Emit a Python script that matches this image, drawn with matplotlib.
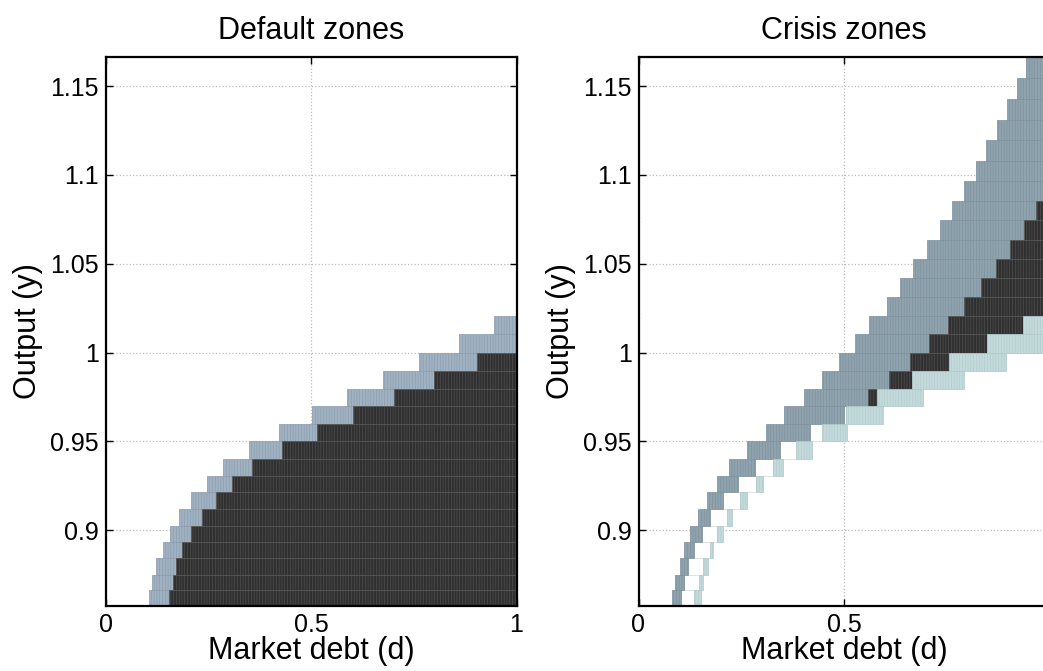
import numpy as np
import matplotlib.pyplot as plt

plt.rcParams['font.family'] = ['Liberation Sans', 'DejaVu Sans']
plt.rcParams['hatch.linewidth'] = 0.4

# output grid rows (log spaced)
y_edges = [0.8574, 0.8662, 0.8751, 0.8842, 0.8933, 0.9025, 0.9118, 0.9213,
           0.9308, 0.9403, 0.9500, 0.9598, 0.9697, 0.9797, 0.9898, 1.0000,
           1.0103, 1.0207, 1.0312, 1.0419, 1.0526, 1.0635, 1.0745, 1.0856,
           1.0968, 1.1081, 1.1195, 1.1311, 1.1428, 1.1545, 1.1664]

nan = np.nan

# Default zones: per row, where the grey band starts and where default starts
def_band_lo = [0.106, 0.113, 0.123, 0.139, 0.157, 0.179, 0.208, 0.246, 0.285,
               0.349, 0.422, 0.502, 0.588, 0.674, 0.763, 0.861, 0.946] + [nan] * 13
def_black_lo = [0.154, 0.164, 0.172, 0.186, 0.208, 0.234, 0.269, 0.308, 0.356,
                0.430, 0.514, 0.601, 0.702, 0.800, 0.905, 1.0, 1.0] + [nan] * 13

# Crisis zones
cri_band_lo = [0.082, 0.089, 0.101, 0.111, 0.126, 0.144, 0.166, 0.192, 0.221,
               0.264, 0.311, 0.355, 0.402, 0.447, 0.487, 0.526, 0.562, 0.604,
               0.636, 0.668, 0.702, 0.734, 0.762, 0.792, 0.821, 0.845, 0.872,
               0.896, 0.922, 0.943]
cri_band_hi = [0.103, 0.111, 0.121, 0.135, 0.154, 0.174, 0.205, 0.241, 0.284,
               0.345, 0.417, 0.500, 0.558, 0.610, 0.660, 0.708, 0.752, 0.792,
               0.833, 0.870, 0.904, 0.939, 0.967, 0.990, 1.0, 1.0, 1.0,
               1.0, 1.0, 1.0]
cri_black_hi = [nan] * 12 + [0.581, 0.666, 0.756, 0.849, 0.935, 1.0, 1.0, 1.0,
                             1.0, 1.0, 1.0, 1.0] + [nan] * 6
cri_teal_lo = [0.136, 0.148, 0.158, 0.173, 0.192, 0.215, 0.246, 0.287, 0.327,
               0.383, 0.447, 0.504, 0.581, 0.666, 0.756, 0.849, 0.935] + [nan] * 13
cri_teal_hi = [0.152, 0.158, 0.169, 0.182, 0.205, 0.228, 0.264, 0.303, 0.352,
               0.422, 0.508, 0.595, 0.693, 0.791, 0.894, 1.0, 1.0] + [nan] * 13

BAND_L = "#a0b2c2"
BAND_R = "#8fa3af"
BLACK = "#303030"
TEAL = "#c3dadb"

y_edges = np.array(y_edges)
y_lo = y_edges[:-1]
y_h = np.diff(y_edges)


def zone(ax, lo, hi, face, edge, hatch="||||||", lw=0.5):
    lo = np.array(lo, dtype=float)
    hi = np.array(hi, dtype=float)
    m = ~np.isnan(lo) & ~np.isnan(hi) & (hi > lo)
    ax.barh(y_lo[m], hi[m] - lo[m], left=lo[m], height=y_h[m], align="edge",
            color=face, edgecolor=edge, linewidth=lw, hatch=hatch, zorder=2)


def style(ax, title):
    ax.set_xlim(0, 1)
    ax.set_ylim(y_edges[0], y_edges[-1])
    ax.set_xticks([0, 0.5, 1])
    ax.set_xticklabels(["0", "0.5", "1"])
    ax.set_yticks([0.9, 0.95, 1, 1.05, 1.1, 1.15])
    ax.set_yticklabels(["0.9", "0.95", "1", "1.05", "1.1", "1.15"])
    ax.tick_params(direction="in", length=5, width=1, top=True, right=True,
                   labelsize=18, pad=5)
    ax.grid(True, linestyle=":", color="#bcbcbc", linewidth=0.9)
    ax.set_axisbelow(True)
    for s in ax.spines.values():
        s.set_linewidth(1.6)
        s.set_zorder(5)
    ax.set_title(title, fontsize=22, pad=13)
    ax.set_xlabel("Market debt (d)", fontsize=22, labelpad=-1)
    ax.set_ylabel("Output (y)", fontsize=22, labelpad=5)


fig = plt.figure(figsize=(10.43, 6.71), dpi=100)
ax1 = fig.add_axes([105.5 / 1043, 65 / 671, 411 / 1043, 549 / 671])
ax2 = fig.add_axes([638.5 / 1043, 65 / 671, 411 / 1043, 549 / 671])

# Default zones
zone(ax1, def_band_lo, def_black_lo, BAND_L, "#8a9aab")
zone(ax1, def_black_lo, [1.0] * 30, BLACK, "#555555")
style(ax1, "Default zones")

# Crisis zones (faint outlined cells between band and teal first)
zone(ax2, cri_band_hi, cri_teal_lo, "white", "#e2e2e2", hatch=None, lw=0.7)
zone(ax2, cri_band_lo, cri_band_hi, BAND_R, "#7d909c")
zone(ax2, cri_band_hi, cri_black_hi, BLACK, "#555555")
zone(ax2, cri_teal_lo, cri_teal_hi, TEAL, "#b0c9ca")
style(ax2, "Crisis zones")

fig.savefig("out.png", dpi=100, facecolor="white")
